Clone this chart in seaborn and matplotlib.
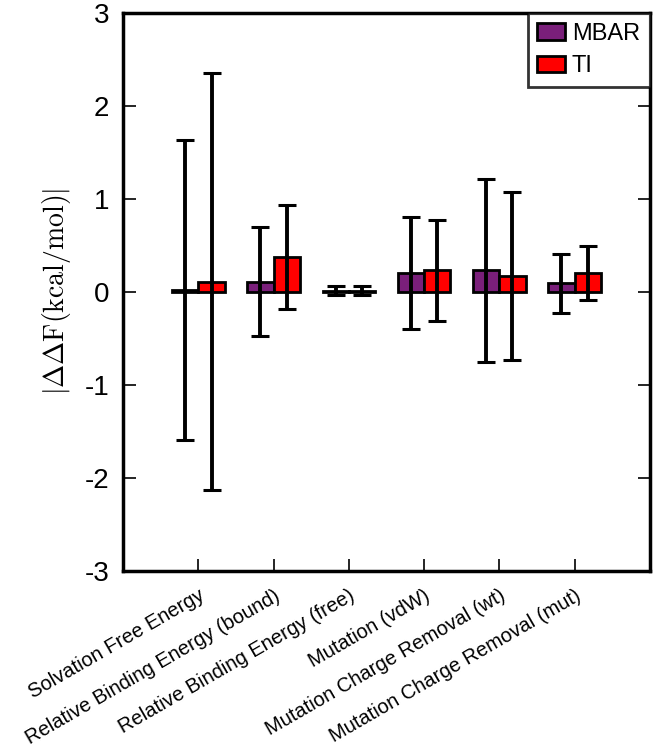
import numpy as np
import pandas as pd
import matplotlib
matplotlib.use("Agg")
import matplotlib.pyplot as plt
import matplotlib.transforms as mtrans
import seaborn as sns

# datos
categorias = ["Solvation Free Energy", "Relative Binding Energy (bound)",
              "Relative Binding Energy (free)", "Mutation (vdW)",
              "Mutation Charge Removal (wt)", "Mutation Charge Removal (mut)"]
mbar = [0.02, 0.11, 0.01, 0.20, 0.23, 0.09]
mbar_err = [1.61, 0.59, 0.05, 0.60, 0.98, 0.32]
ti = [0.11, 0.37, 0.01, 0.23, 0.17, 0.20]
ti_err = [2.24, 0.56, 0.05, 0.54, 0.90, 0.29]
metodos = ["MBAR", "TI"]
colores = ["#7a1f7a", "#ff0000"]

sns.set_style("white")
plt.rcParams['font.family'] = ['Liberation Sans', 'DejaVu Sans']
plt.rcParams['mathtext.fontset'] = 'cm'
plt.rcParams['axes.unicode_minus'] = False
plt.rcParams['text.color'] = 'black'
plt.rcParams['xtick.color'] = 'black'
plt.rcParams['ytick.color'] = 'black'
plt.rcParams['axes.labelcolor'] = 'black'

df = pd.DataFrame({
    "cat": categorias * 2,
    "metodo": ["MBAR"] * 6 + ["TI"] * 6,
    "valor": mbar + ti,
})

fig = plt.figure(figsize=(6.55, 7.5), dpi=100)
ax = fig.add_axes([0.188, 0.239, 0.804, 0.744])

sns.barplot(data=df, x="cat", y="valor", hue="metodo", hue_order=metodos,
            palette=colores, order=categorias, width=0.7, errorbar=None,
            edgecolor="black", linewidth=2, saturation=1, ax=ax)

# barras de error en el centro de cada barra
errores = {"MBAR": mbar_err, "TI": ti_err}
valores = {"MBAR": mbar, "TI": ti}
for cont, met in zip(ax.containers, metodos):
    xs = [p.get_x() + p.get_width() / 2 for p in cont.patches]
    ax.errorbar(xs, valores[met], yerr=errores[met], fmt="none", ecolor="black",
                elinewidth=2.8, capsize=6.5, capthick=2.2, zorder=5)

ax.set_xlim(-1, 6)
ax.set_ylim(-3, 3)
ax.set_yticks(range(-3, 4))
ax.set_yticklabels([str(v) for v in range(-3, 4)], fontsize=20)
ax.set_xticks(range(6))
ax.set_xticklabels(categorias, rotation=30, ha="right", rotation_mode="anchor", fontsize=14.5)
desplaza = mtrans.ScaledTranslation(-4 / 100, 0, fig.dpi_scale_trans)
for lab in ax.get_xticklabels():
    lab.set_transform(lab.get_transform() + desplaza)
ax.set_xlabel("")
ax.set_ylabel(r"$|\Delta\Delta\mathrm{F(kcal/mol)}|$", fontsize=20, labelpad=8)

ax.tick_params(axis="y", direction="in", length=9, width=1.2, left=True, right=True, pad=10)
ax.tick_params(axis="x", direction="in", length=9, width=1.2, bottom=True, top=False, pad=11)
for s in ax.spines.values():
    s.set_linewidth(2.5)
    s.set_color("black")

leg = ax.legend(loc="upper right", fontsize=17, frameon=True, fancybox=False,
                edgecolor="black", borderaxespad=0, handlelength=1.15, handleheight=0.72,
                handletextpad=0.3, labelspacing=0.45, borderpad=0.42)
leg.get_frame().set_linewidth(2)

fig.savefig("out.png", dpi=100)
